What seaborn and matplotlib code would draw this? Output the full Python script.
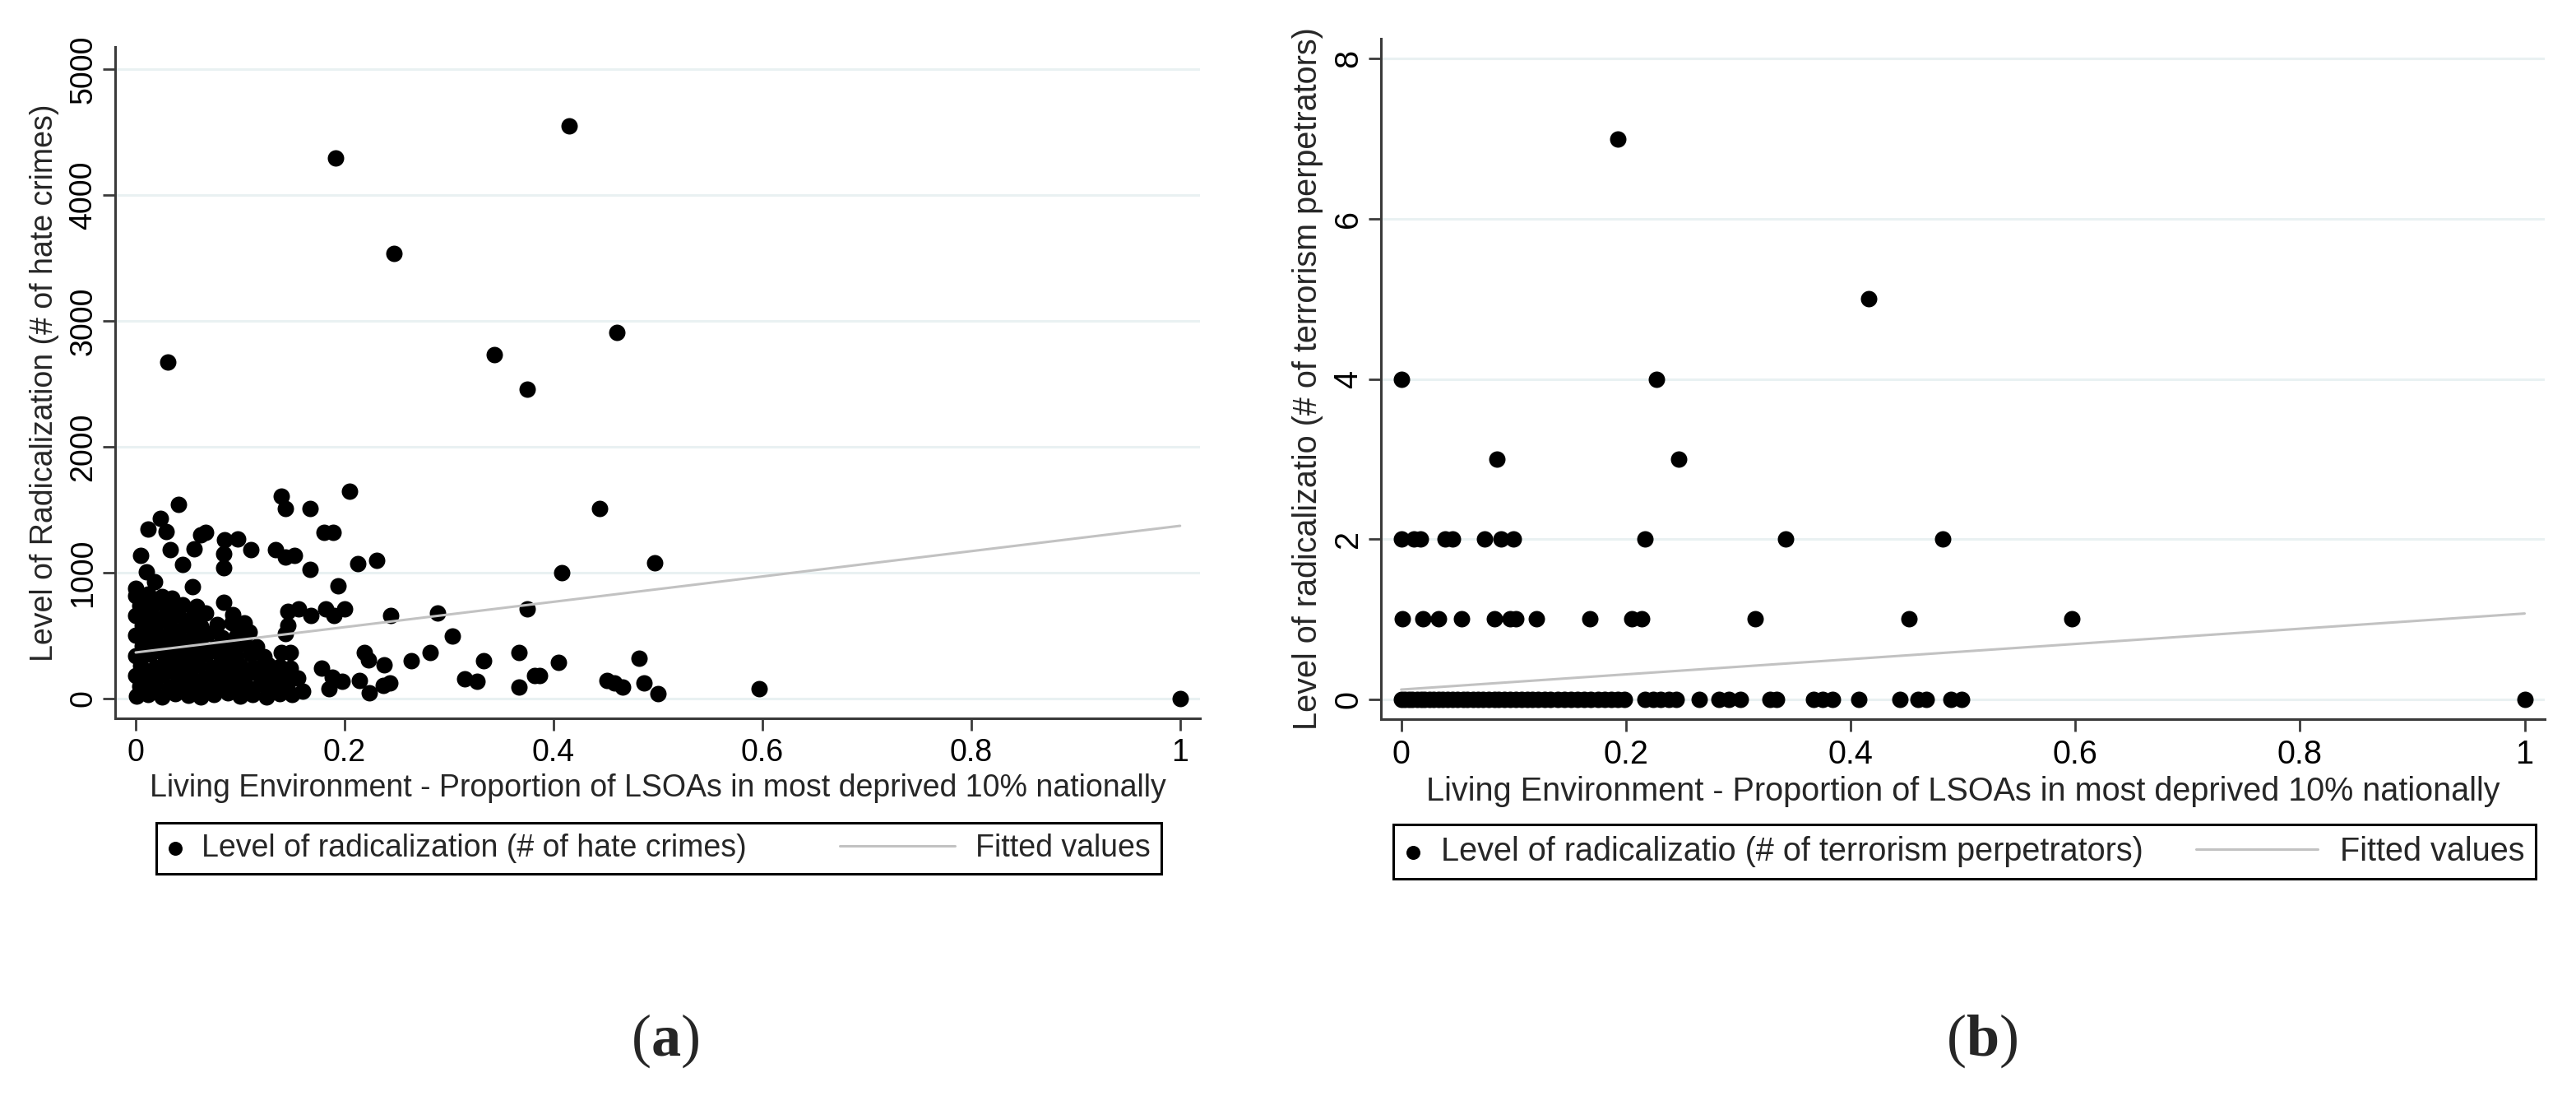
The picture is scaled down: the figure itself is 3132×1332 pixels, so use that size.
import numpy as np
import matplotlib
matplotlib.use("Agg")
import matplotlib.pyplot as plt
from matplotlib.legend_handler import HandlerLine2D
import seaborn as sns

# ---- data ----
# (a) hate crimes vs living environment deprivation
hate_cluster = [
    (0.001, 20), (0.012, 35), (0.025, 15), (0.038, 40), (0.050, 25), (0.062, 10), (0.075, 30),
    (0.088, 45), (0.100, 20), (0.112, 35), (0.125, 15), (0.138, 40), (0.150, 30), (0.160, 59),
    (0.004, 95), (0.018, 110), (0.032, 90), (0.045, 105), (0.058, 120), (0.070, 95), (0.083, 110),
    (0.097, 100), (0.108, 85), (0.120, 115), (0.132, 95), (0.145, 105),
    (0.000, 180), (0.012, 170), (0.026, 190), (0.040, 175), (0.053, 185), (0.066, 165), (0.079, 195),
    (0.092, 180), (0.105, 170), (0.118, 190), (0.130, 175), (0.142, 185), (0.155, 160),
    (0.005, 260), (0.019, 250), (0.032, 270), (0.046, 255), (0.060, 265), (0.073, 245), (0.086, 275),
    (0.100, 260), (0.113, 250), (0.127, 270), (0.138, 255), (0.148, 240),
    (0.000, 340), (0.014, 350), (0.028, 330), (0.042, 345), (0.055, 335), (0.068, 355), (0.082, 325),
    (0.096, 340), (0.110, 350), (0.123, 330), (0.139, 364), (0.148, 364),
    (0.006, 420), (0.020, 410), (0.034, 430), (0.048, 415), (0.062, 425), (0.076, 405), (0.090, 420),
    (0.104, 435), (0.116, 410),
    (0.000, 500), (0.013, 510), (0.027, 490), (0.041, 505), (0.055, 495), (0.069, 515), (0.083, 485),
    (0.097, 500), (0.109, 530),
    (0.006, 580), (0.020, 590), (0.034, 570), (0.048, 585), (0.062, 575), (0.078, 590), (0.092, 600),
    (0.104, 604),
    (0.000, 660), (0.014, 670), (0.027, 650), (0.040, 665), (0.055, 660), (0.067, 680), (0.093, 669),
    (0.004, 740), (0.018, 750), (0.030, 730), (0.045, 745), (0.058, 735),
    (0.000, 820), (0.012, 830), (0.025, 810), (0.035, 800),
]
hate_mid = [
    (0.205, 1650), (0.139, 1607), (0.143, 1508), (0.167, 1508), (0.041, 1541), (0.024, 1432),
    (0.029, 1328), (0.012, 1349), (0.180, 1319), (0.189, 1319), (0.067, 1320), (0.062, 1300),
    (0.056, 1192), (0.033, 1181), (0.005, 1138), (0.085, 1258), (0.098, 1269), (0.110, 1181),
    (0.084, 1149), (0.084, 1040), (0.134, 1181), (0.143, 1127), (0.152, 1138), (0.045, 1066),
    (0.167, 1029), (0.213, 1072), (0.231, 1101), (0.010, 1007), (0.018, 931), (0.000, 876),
    (0.054, 887), (0.194, 898), (0.084, 767), (0.146, 691), (0.156, 713), (0.168, 658),
    (0.182, 713), (0.190, 658), (0.200, 713), (0.244, 658), (0.289, 680), (0.303, 495),
    (0.143, 517), (0.146, 582), (0.219, 364), (0.223, 310), (0.238, 266), (0.264, 299),
    (0.282, 364), (0.333, 299), (0.315, 157), (0.327, 135), (0.178, 244), (0.188, 168),
    (0.198, 135), (0.185, 81), (0.214, 146), (0.224, 48), (0.237, 102), (0.243, 124),
]
hate_outliers = [
    (0.191, 4296), (0.415, 4550), (0.247, 3534), (0.461, 2905), (0.343, 2730), (0.031, 2673),
    (0.375, 2455), (0.444, 1512), (0.497, 1076), (0.408, 998), (0.375, 715), (0.367, 368),
    (0.367, 90), (0.382, 182), (0.387, 182), (0.405, 287), (0.451, 141), (0.458, 124),
    (0.466, 89), (0.482, 323), (0.487, 124), (0.500, 37), (0.597, 78), (1.000, 0),
]
hate_fit_x = [0, 1]
hate_fit_y = [366, 1372]

# (b) terrorism perpetrators, x positions for each count level
terror_x_0 = [
    0.000, 0.003, 0.007, 0.010, 0.014, 0.018, 0.021, 0.025, 0.029, 0.033, 0.037, 0.041, 0.046,
    0.050, 0.055, 0.059, 0.064, 0.068, 0.073, 0.078, 0.083, 0.087, 0.092, 0.097, 0.102, 0.107,
    0.112, 0.117, 0.122, 0.128, 0.133, 0.139, 0.145, 0.151, 0.157, 0.163, 0.169, 0.175, 0.181,
    0.187, 0.193, 0.199, 0.217, 0.224, 0.231, 0.238, 0.245, 0.265, 0.283, 0.292, 0.302, 0.328,
    0.334, 0.367, 0.375, 0.384, 0.407, 0.444, 0.460, 0.467, 0.489, 0.499, 1.000,
]
terror_x_1 = [0.001, 0.019, 0.033, 0.054, 0.083, 0.097, 0.102, 0.120, 0.168, 0.205, 0.214,
              0.315, 0.452, 0.597]
terror_x_2 = [0.000, 0.011, 0.017, 0.039, 0.046, 0.074, 0.089, 0.100, 0.217, 0.342, 0.482]
terror_x_3 = [0.085, 0.247]
terror_x_4 = [0.000, 0.227]
terror_x_5 = [0.416]
terror_x_7 = [0.193]
terror_fit_x = [0, 1]
terror_fit_y = [0.12, 1.07]

x_ticks = [0, 0.2, 0.4, 0.6, 0.8, 1]
x_ticklabels = ['0', '0.2', '0.4', '0.6', '0.8', '1']
hate_yticks = [0, 1000, 2000, 3000, 4000, 5000]
terror_yticks = [0, 2, 4, 6, 8]

XLABEL = 'Living Environment - Proportion of LSOAs in most deprived 10% nationally'

# ---- style ----
sns.set_style("white")
plt.rcParams['font.family'] = ['Liberation Sans', 'DejaVu Sans']
plt.rcParams['mathtext.fontset'] = 'custom'
plt.rcParams['mathtext.bf'] = 'Liberation Serif:bold'
plt.rcParams['mathtext.rm'] = 'Liberation Serif'

AXIS_COL = '#3a3a3a'
GRID_COL = '#e9f1f2'
FIT_COL = '#c2c2c2'


class LongLine(HandlerLine2D):
    # legend line sample that reaches further left than the handle box
    def get_xdata(self, legend, xdescent, ydescent, width, height, fontsize):
        xdata = np.array([-xdescent - 3.3 * fontsize, -xdescent + width - 0.1 * fontsize])
        return xdata, xdata


def style_axes(ax, xlim, ylim, yticks, ylabel, fs):
    ax.set_xlim(*xlim)
    ax.set_ylim(*ylim)
    ax.set_xticks(x_ticks)
    ax.set_xticklabels(x_ticklabels)
    ax.set_yticks(yticks)
    ax.set_yticklabels([str(t) for t in yticks])
    for s in ['top', 'right']:
        ax.spines[s].set_visible(False)
    for s in ['left', 'bottom']:
        ax.spines[s].set_color(AXIS_COL)
        ax.spines[s].set_linewidth(2.2)
    ax.tick_params(axis='both', direction='out', length=11, width=2, color=AXIS_COL,
                   labelsize=fs, labelcolor='black', left=True, bottom=True)
    ax.tick_params(axis='x', pad=6)
    ax.tick_params(axis='y', pad=4)
    for lab in ax.get_yticklabels():
        lab.set_rotation(90)
        lab.set_va('center')
    ax.yaxis.grid(True, color=GRID_COL, linewidth=2.2)
    ax.xaxis.grid(False)
    ax.set_axisbelow(True)
    ax.set_xlabel(XLABEL, fontsize=fs, labelpad=5)
    ax.set_ylabel(ylabel, fontsize=fs, labelpad=8)


def add_legend(ax, fig, x0, top, width, fs):
    handles, labels = ax.get_legend_handles_labels()
    line_handle = [h for h in handles if isinstance(h, plt.Line2D)][0]
    leg = ax.legend(handles, labels, loc='upper left', bbox_to_anchor=(x0, top - 0.05, width, 0.05),
                    bbox_transform=fig.transFigure, mode='expand', ncol=2,
                    borderaxespad=0, borderpad=0.35, handlelength=0.53, handletextpad=0.58,
                    fontsize=fs, frameon=True, fancybox=False, framealpha=1,
                    edgecolor='black', markerscale=0.85,
                    handler_map={line_handle: LongLine()})
    leg.get_frame().set_linewidth(2.2)
    return leg


fig = plt.figure(figsize=(31.32, 13.32), dpi=100)
ax_a = fig.add_axes([0.0447, 0.3446, 0.4211, 0.6126])
ax_b = fig.add_axes([0.5361, 0.3438, 0.4518, 0.6209])

# (a)
hate_pts = hate_cluster + hate_mid + hate_outliers
hx = [p[0] for p in hate_pts]
hy = [p[1] for p in hate_pts]
sns.scatterplot(x=hx, y=hy, color='black', s=207, linewidth=0, ax=ax_a,
                label='Level of radicalization (# of hate crimes)')
sns.lineplot(x=hate_fit_x, y=hate_fit_y, color=FIT_COL, linewidth=2.2, ax=ax_a,
             label='Fitted values', sort=False, estimator=None)
style_axes(ax_a, (-0.0197, 1.019), (-157, 5176), hate_yticks,
           'Level of Radicalization (# of hate crimes)', 27)
add_legend(ax_a, fig, 0.0607, 0.2492, 0.3902, 27)

# (b)
levels = {0: terror_x_0, 1: terror_x_1, 2: terror_x_2, 3: terror_x_3,
          4: terror_x_4, 5: terror_x_5, 7: terror_x_7}
tx, ty = [], []
for lvl, xs in levels.items():
    tx += xs
    ty += [lvl] * len(xs)
sns.scatterplot(x=tx, y=ty, color='black', s=207, linewidth=0, ax=ax_b,
                label='Level of radicalizatio (# of terrorism perpetrators)')
sns.lineplot(x=terror_fit_x, y=terror_fit_y, color=FIT_COL, linewidth=2.2, ax=ax_b,
             label='Fitted values', sort=False, estimator=None)
style_axes(ax_b, (-0.018, 1.018), (-0.25, 8.25), terror_yticks,
           'Level of radicalizatio (# of terrorism perpetrators)', 28.5)
add_legend(ax_b, fig, 0.5409, 0.2477, 0.4435, 28.5)

# panel letters
fig.text(0.258, 0.0503, r'($\mathbf{a}$)', fontfamily='Liberation Serif', fontsize=52,
         ha='center', va='center')
fig.text(0.7692, 0.0503, r'($\mathbf{b}$)', fontfamily='Liberation Serif', fontsize=52,
         ha='center', va='center')

fig.savefig('out.png', dpi=100)
